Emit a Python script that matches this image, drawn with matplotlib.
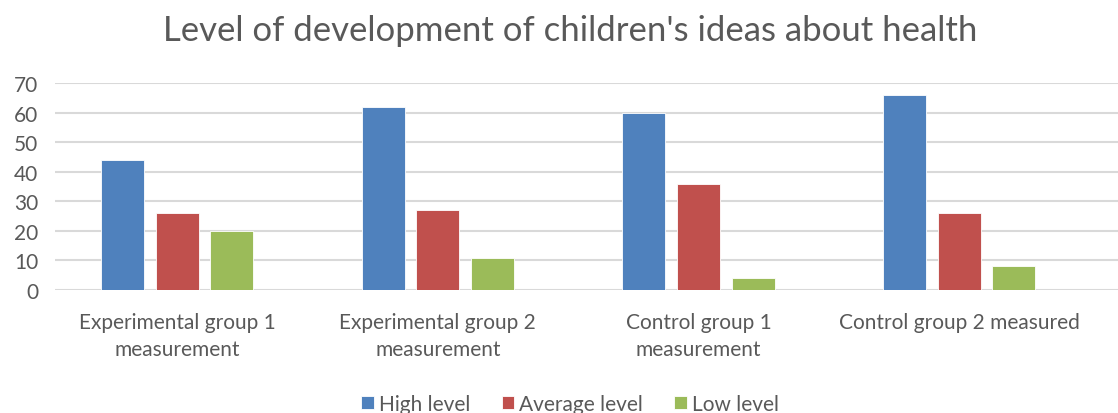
import numpy as np
import matplotlib
matplotlib.use("Agg")
from matplotlib import pyplot as plt

# chart data
categories = ["Experimental group 1\nmeasurement",
              "Experimental group 2\nmeasurement",
              "Control group 1\nmeasurement",
              "Control group 2 measured"]
high_level = [44, 62, 60, 66]
average_level = [26, 27, 36, 26]
low_level = [20, 11, 4, 8]
series_names = ["High level", "Average level", "Low level"]
colors = ["#4F81BD", "#C0504D", "#9BBB59"]

plt.rcParams['font.family'] = ['Lato', 'DejaVu Sans']
text_color = "#595959"

fig = plt.figure(figsize=(11.18, 4.14), dpi=100)
ax = fig.add_axes([0.049, 0.297, 0.951, 0.50])

x = np.arange(len(categories))
width = 0.165
step = 0.21
for i, (vals, name, col) in enumerate(zip([high_level, average_level, low_level],
                                          series_names, colors)):
    ax.bar(x + (i - 1) * step, vals, width, color=col, label=name,
           edgecolor="white", linewidth=0.6, zorder=3)

ax.set_ylim(0, 70)
ax.set_yticks(range(0, 71, 10))
ax.set_xlim(-0.47, 3.61)
ax.set_xticks(x)
ax.set_xticklabels(categories, fontsize=15, color=text_color, linespacing=1.45)
ax.tick_params(axis='y', labelsize=15, colors=text_color, length=0, pad=12)
ax.tick_params(axis='x', length=0, pad=16)
ax.yaxis.grid(True, color="#d9d9d9", linewidth=1.5, zorder=0)
for s in ax.spines.values():
    s.set_visible(False)

fig.text(0.51, 0.925, "Level of development of children's ideas about health",
         ha="center", va="center", fontsize=25, color=text_color)

fig.legend(loc="center", bbox_to_anchor=(0.51, 0.022), ncol=3, frameon=False,
           fontsize=15, labelcolor=text_color, handlelength=0.6, handleheight=0.6,
           handletextpad=0.25, columnspacing=1.5)

fig.savefig("out.png", dpi=100)
